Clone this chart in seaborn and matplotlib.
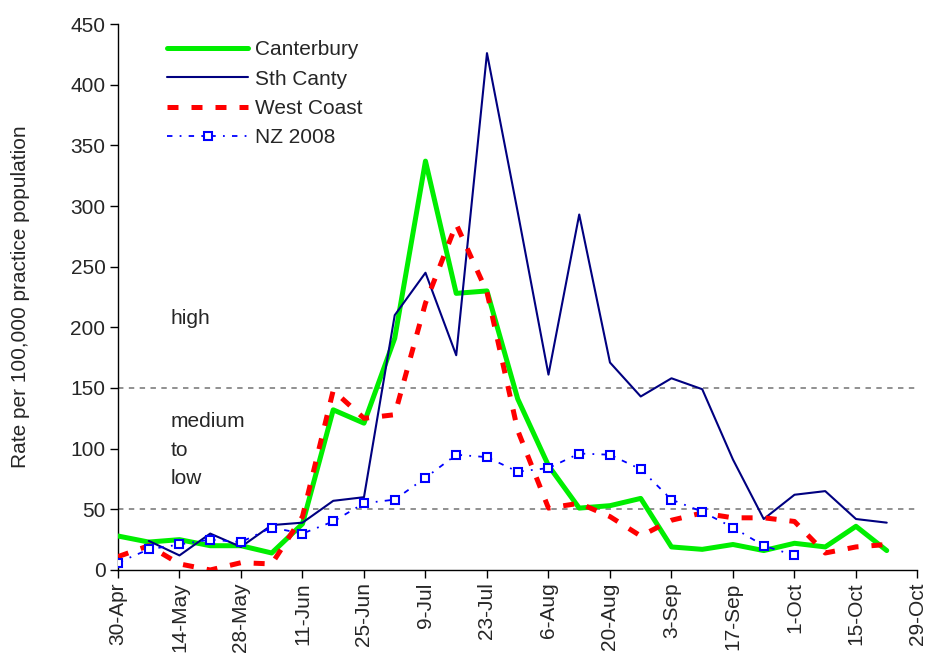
import pandas as pd
import numpy as np
import matplotlib
matplotlib.use("Agg")
import matplotlib.pyplot as plt
import seaborn as sns

# weekly data, 2008 (week starting dates)
weeks = ["2008-04-30", "2008-05-07", "2008-05-14", "2008-05-21", "2008-05-28",
         "2008-06-04", "2008-06-11", "2008-06-18", "2008-06-25", "2008-07-02",
         "2008-07-09", "2008-07-16", "2008-07-23", "2008-07-30", "2008-08-06",
         "2008-08-13", "2008-08-20", "2008-08-27", "2008-09-03", "2008-09-10",
         "2008-09-17", "2008-09-24", "2008-10-01", "2008-10-08", "2008-10-15",
         "2008-10-22"]

canterbury = [28, 23, 25, 20, 20, 14, 38, 132, 121, 191, 337, 228, 230, 141, 86,
              51, 53, 59, 19, 17, 21, 16, 22, 19, 36, 16]
sth_canty = [np.nan, 24, 12, 30, 19, 37, 39, 57, 60, 210, 245, 177, 426, 295, 161,
             293, 171, 143, 158, 149, 91, 42, 62, 65, 42, 39]
west_coast = [11, 20, 5, 0, 6, 5, 44, 148, 125, 128, 220, 285, 229, 115, 51,
              55, 44, 28, 41, 47, 43, 43, 40, 14, 19, 21]
nz_2008 = [6, 17, 21, 25, 23, 35, 30, 40, 55, 58, 76, 95, 93, 81, 84,
           96, 95, 83, 58, 48, 35, 20, 12, np.nan, np.nan, np.nan]

tick_dates = ["2008-04-30", "2008-05-14", "2008-05-28", "2008-06-11", "2008-06-25",
              "2008-07-09", "2008-07-23", "2008-08-06", "2008-08-20", "2008-09-03",
              "2008-09-17", "2008-10-01", "2008-10-15", "2008-10-29"]
tick_labels = ["30-Apr", "14-May", "28-May", "11-Jun", "25-Jun", "9-Jul", "23-Jul",
               "6-Aug", "20-Aug", "3-Sep", "17-Sep", "1-Oct", "15-Oct", "29-Oct"]

df = pd.DataFrame({
    "week": pd.to_datetime(weeks),
    "Canterbury": canterbury,
    "Sth Canty": sth_canty,
    "West Coast": west_coast,
    "NZ 2008": nz_2008,
})

sns.set_style("white")
plt.rcParams["font.family"] = ["Liberation Sans", "DejaVu Sans"]
fs = 15

fig = plt.figure(figsize=(9.26, 6.6), dpi=100)
ax = fig.add_axes([0.1274, 0.1364, 0.8634, 0.8272])

# threshold lines
ax.axhline(150, color="#888888", lw=1.3, ls=(0, (3, 3)), zorder=1)
ax.axhline(50, color="#888888", lw=1.3, ls=(0, (3, 3)), zorder=1)

sns.lineplot(data=df, x="week", y="Canterbury", ax=ax, color="#00ee00", lw=3.6,
             label="Canterbury", zorder=3)
sns.lineplot(data=df, x="week", y="Sth Canty", ax=ax, color="#000080", lw=1.5,
             label="Sth Canty", zorder=4)
sns.lineplot(data=df, x="week", y="West Coast", ax=ax, color="#ff0000", lw=3.6,
             label="West Coast", zorder=5)
ax.lines[-1].set_linestyle((0, (2.2, 2.6)))
sns.lineplot(data=df, x="week", y="NZ 2008", ax=ax, color="#0000ff", lw=1.3,
             marker="s", markersize=5.5, markerfacecolor="white",
             markeredgecolor="#0000ff", markeredgewidth=1.5, label="NZ 2008", zorder=6)
ax.lines[-1].set_linestyle((0, (3, 4, 1, 4)))

ax.set_ylim(0, 450)
ax.set_yticks(range(0, 451, 50))
ax.set_xlim(pd.Timestamp("2008-04-30"), pd.Timestamp("2008-10-29"))
ax.set_xticks(pd.to_datetime(tick_dates))
ax.set_xticklabels(tick_labels, rotation=90)
ax.tick_params(axis="both", direction="out", length=6, width=1, color="black",
               labelsize=fs, bottom=True, left=True, pad=3)
ax.set_xlabel("")
ax.set_ylabel("Rate per 100,000 practice population", fontsize=fs)
ax.yaxis.set_label_coords(-0.11, 0.5)

for s in ["top", "right"]:
    ax.spines[s].set_visible(False)
for s in ["left", "bottom"]:
    ax.spines[s].set_color("black")
    ax.spines[s].set_linewidth(1)

x_txt = pd.Timestamp("2008-05-12")
ax.text(x_txt, 207, "high", fontsize=fs, va="center")
ax.text(x_txt, 122, "medium", fontsize=fs, va="center")
ax.text(x_txt, 98.5, "to", fontsize=fs, va="center")
ax.text(x_txt, 75, "low", fontsize=fs, va="center")

ax.legend(loc="upper left", bbox_to_anchor=(0.043, 0.997), frameon=False,
          fontsize=fs, handlelength=3.9, labelspacing=0.5, handletextpad=0.35,
          borderaxespad=0.3)

fig.savefig("out.png", dpi=100)
